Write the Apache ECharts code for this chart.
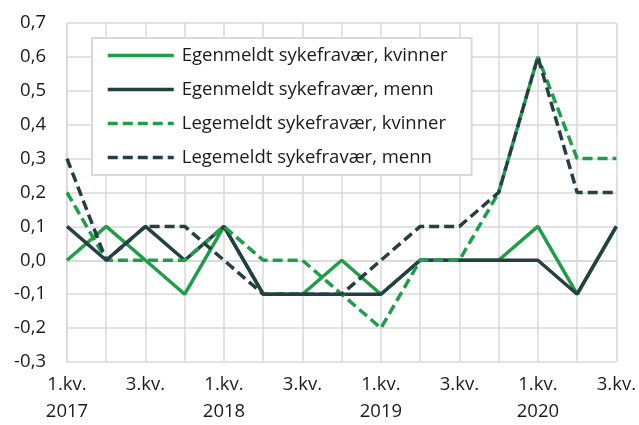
<!DOCTYPE html>
<html>
<head>
<meta charset="utf-8">
<script src="https://cdn.jsdelivr.net/npm/echarts@6/dist/echarts.min.js"></script>
<style>
  html, body { margin: 0; padding: 0; background: #ffffff; }
  #chart { width: 639px; height: 425px; }
</style>
</head>
<body>
<div id="chart"></div>
<script>
// Quarters from 1st quarter 2017 to 3rd quarter 2020
const quarters = [
  "1.kv.\n2017", "2.kv.", "3.kv.", "4.kv.",
  "1.kv.\n2018", "2.kv.", "3.kv.", "4.kv.",
  "1.kv.\n2019", "2.kv.", "3.kv.", "4.kv.",
  "1.kv.\n2020", "2.kv.", "3.kv."
];

const egenmeldtKvinner = [0.0, 0.1, 0.0, -0.1, 0.1, -0.1, -0.1, 0.0, -0.1, 0.0, 0.0, 0.0, 0.1, -0.1, 0.1];
const egenmeldtMenn    = [0.1, 0.0, 0.1, 0.0, 0.1, -0.1, -0.1, -0.1, -0.1, 0.0, 0.0, 0.0, 0.0, -0.1, 0.1];
const legemeldtKvinner = [0.2, 0.0, 0.0, 0.0, 0.1, 0.0, 0.0, -0.1, -0.2, 0.0, 0.0, 0.2, 0.6, 0.3, 0.3];
const legemeldtMenn    = [0.3, 0.0, 0.1, 0.1, 0.0, -0.1, -0.1, -0.1, 0.0, 0.1, 0.1, 0.2, 0.6, 0.2, 0.2];

const seriesNames = [
  "Egenmeldt sykefravær, kvinner",
  "Egenmeldt sykefravær, menn",
  "Legemeldt sykefravær, kvinner",
  "Legemeldt sykefravær, menn"
];

const GREEN = "#1f9d48";
const DARK = "#263f45";
const GRIDLINE = "#d9d9d9";
const TEXT = "#1a1a1a";
const FONT = "'Open Sans', 'Noto Sans', sans-serif";
const FONT_SIZE = 18.5;
const LINE_WIDTH = 3.5;

function lineSeries(name, data, color, dashed) {
  return {
    name: name,
    type: "line",
    data: data,
    symbol: "none",
    smooth: false,
    lineStyle: {
      color: color,
      width: LINE_WIDTH,
      type: dashed ? [10, 5] : "solid"
    },
    itemStyle: { color: color },
    emphasis: { disabled: true }
  };
}

const chart = echarts.init(document.getElementById("chart"), null, { renderer: "canvas" });

chart.setOption({
  animation: false,
  textStyle: { fontFamily: FONT },
  grid: { left: 67, right: 19, top: 23, bottom: 56, containLabel: false },
  legend: {
    orient: "vertical",
    left: 92,
    top: 38,
    padding: [8, 24, 8, 14],
    itemWidth: 66,
    itemHeight: 14,
    itemGap: 15,
    // legend keys show only the line, no marker
    itemStyle: { color: "transparent", borderWidth: 0, opacity: 0 },
    lineStyle: { width: LINE_WIDTH },
    backgroundColor: "#ffffff",
    borderColor: GRIDLINE,
    borderWidth: 2,
    textStyle: { fontFamily: FONT, fontSize: FONT_SIZE, color: TEXT, padding: [0, 0, 0, 3] },
    data: seriesNames
  },
  xAxis: {
    type: "category",
    data: quarters,
    boundaryGap: false,
    axisLine: { show: true, lineStyle: { color: GRIDLINE, width: 1.5 } },
    axisTick: { show: false },
    splitLine: { show: true, interval: 0, lineStyle: { color: GRIDLINE, width: 1.5 } },
    axisLabel: {
      interval: 1,
      margin: 9,
      fontFamily: FONT,
      fontSize: FONT_SIZE,
      lineHeight: 27,
      color: TEXT
    }
  },
  yAxis: {
    type: "value",
    min: -0.3,
    max: 0.7,
    interval: 0.1,
    axisLine: { show: true, lineStyle: { color: GRIDLINE, width: 1.5 } },
    axisTick: { show: false },
    splitLine: { show: true, lineStyle: { color: GRIDLINE, width: 1.5 } },
    axisLabel: {
      margin: 21,
      fontFamily: FONT,
      fontSize: FONT_SIZE,
      color: TEXT,
      formatter: function (v) {
        return (Math.round(v * 10) / 10).toFixed(1).replace(".", ",");
      }
    }
  },
  series: [
    lineSeries(seriesNames[0], egenmeldtKvinner, GREEN, false),
    lineSeries(seriesNames[1], egenmeldtMenn, DARK, false),
    lineSeries(seriesNames[2], legemeldtKvinner, GREEN, true),
    lineSeries(seriesNames[3], legemeldtMenn, DARK, true)
  ]
});
</script>
</body>
</html>
